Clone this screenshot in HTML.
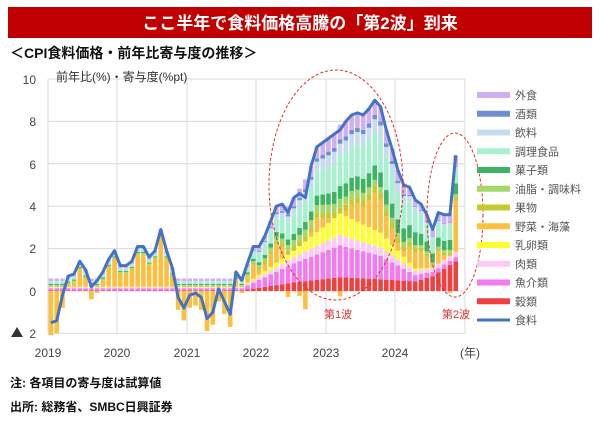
<!DOCTYPE html>
<html><head><meta charset="utf-8"><style>
body{margin:0;background:#fff;width:600px;height:416px;overflow:hidden;font-family:"Liberation Sans","Noto Sans CJK JP",sans-serif;}
</style></head><body>
<svg id="s" width="600" height="416" xmlns="http://www.w3.org/2000/svg" font-family="Liberation Sans, Noto Sans CJK JP, sans-serif">
<rect x="8" y="7" width="584" height="31" fill="#c00000"/>
<text x="300" y="29" font-size="17" font-weight="bold" fill="#fff" text-anchor="middle">ここ半年で食料価格高騰の「第2波」到来</text>
<text x="10" y="58" font-size="14" font-weight="bold" fill="#111">＜CPI食料価格・前年比寄与度の推移＞</text>
<g id="grid"></g>
<g id="bars"></g>
<polyline id="line" fill="none" stroke="#4472c4" stroke-width="3" stroke-linejoin="round"/>
<text x="56" y="81" font-size="12" fill="#333">前年比(%)・寄与度(%pt)</text>
<ellipse cx="336" cy="185" rx="67" ry="115" fill="none" stroke="#e03030" stroke-width="1" stroke-dasharray="3,2"/>
<ellipse cx="455" cy="215" rx="28" ry="82" fill="none" stroke="#e03030" stroke-width="1" stroke-dasharray="3,2"/>
<text x="324" y="318" font-size="11" fill="#e03030">第1波</text>
<text x="442" y="318" font-size="11" fill="#e03030">第2波</text>
<g id="leg" font-size="11" fill="#555"></g>
<g font-size="12" fill="#444" text-anchor="middle">
<text x="48" y="357">2019</text><text x="117" y="357">2020</text><text x="187" y="357">2021</text><text x="256" y="357">2022</text><text x="326" y="357">2023</text><text x="395" y="357">2024</text><text x="470" y="357">(年)</text>
</g>
<g font-size="12" fill="#444" text-anchor="end">
<text x="36" y="84">10</text><text x="36" y="126">8</text><text x="36" y="169">6</text><text x="36" y="211">4</text><text x="36" y="253">2</text><text x="36" y="296">0</text><text x="36" y="338">2</text>
</g>
<path d="M11 337 L17 327 L23 337Z" fill="#333"/>
<text x="10" y="387" font-size="12" font-weight="bold" fill="#111">注: 各項目の寄与度は試算値</text>
<text x="10" y="411" font-size="12" font-weight="bold" fill="#111">出所: 総務省、SMBC日興証券</text>
</svg>
<script>
var NS="http://www.w3.org/2000/svg";
function el(t,a,p){var e=document.createElementNS(NS,t);for(var k in a)e.setAttribute(k,a[k]);if(p)p.appendChild(e);return e;}
var X0=48,XR=465,DX=(395-48)/60,Y0=291,SY=21.2;
function Y(v){return Y0-v*SY;}
var g=document.getElementById('grid');
for(var v=-2;v<=10;v+=2)el('line',{x1:X0,x2:XR,y1:Y(v),y2:Y(v),stroke:'#d9d9d9','stroke-width':1},g);
[48,117,187,256,326,395,465].forEach(function(x){el('line',{x1:x,x2:x,y1:Y(10),y2:Y(-2),stroke:'#d9d9d9','stroke-width':1},g);});
var line=[-1.5,-1.4,-0.2,0.7,0.8,1.4,1.0,0.2,0.5,0.9,1.5,1.9,
1.2,1.2,1.4,2.1,2.1,1.6,1.9,2.9,1.9,1.1,-0.3,-0.8,
-0.2,-0.1,-0.3,-1.3,-1.0,0.1,-0.5,-1.1,0.9,0.5,1.3,2.1,
2.1,2.6,3.3,4.0,4.1,3.7,4.4,4.6,4.4,5.9,6.8,7.0,
7.2,7.4,7.6,8.0,8.3,8.4,8.3,8.6,9.0,8.7,7.6,6.7,
5.7,5.0,4.9,4.3,4.1,3.6,2.9,3.7,3.6,3.6,6.4];
var N=line.length;
var kt=[0,33,42,50,57,63,66,70];
var comps=[
['#f04040',[0.03,0.03,0.4,0.65,0.55,0.45,0.7,1.4]],
['#f07cf0',[0.1,0.1,0.9,1.5,1.1,0.3,0.2,0.2]],
['#fbcaf5',[0.05,0.05,0.3,0.5,0.4,0.2,0.2,0.25]],
['#ffff30',[0.02,0.02,0.3,1.0,0.7,0.1,0.0,0.0]],
['#c8c830',[0.05,0.05,0.2,0.3,0.3,0.2,0.1,0.15]],
['#a4d86c',[0.03,0.03,0.3,0.4,0.3,0.15,0.1,0.15]],
['#3cb464',[0.05,0.05,0.3,0.6,0.7,0.6,0.4,0.5]],
['#a8f0d0',[0.1,0.1,0.9,1.4,1.6,1.0,0.7,0.7]],
['#c8dcf0',[0.05,0.05,0.3,0.6,0.6,0.2,0.1,0.1]],
['#6e8fd0',[0.01,0.01,0.1,0.2,0.2,0.03,0.03,0.03]],
['#d0b0f0',[0.1,0.1,0.4,0.7,0.7,0.3,0.3,0.5]]];
function interp(arr,t){for(var i=0;i<kt.length-1;i++){if(t<=kt[i+1]){var f=(t-kt[i])/(kt[i+1]-kt[i]);return arr[i]+(arr[i+1]-arr[i])*f;}}return arr[arr.length-1];}
var order=[0,1,2,3,-1,4,5,6,7,8,9,10];
var b=document.getElementById('bars');var pts=[];
for(var t=0;t<N;t++){
 var vals=comps.map(function(c){return interp(c[1],t);});
 var s=vals.reduce(function(a,c){return a+c;},0);
 var veg=line[t]-s;
 var cx=X0+DX*(t+0.5),w=4.6,pos=0,neg=0;
 order.forEach(function(i){
  var v,col;if(i<0){v=veg;col='#fbc040';}else{v=vals[i];col=comps[i][0];}
  if(v>=0){el('rect',{x:cx-w/2,y:Y(pos+v),width:w,height:v*SY,fill:col},b);pos+=v;}
  else{el('rect',{x:cx-w/2,y:Y(neg),width:w,height:-v*SY,fill:col},b);neg+=v;}
 });
 pts.push(cx.toFixed(1)+','+Y(line[t]).toFixed(1));
}
document.getElementById('line').setAttribute('points',pts.join(' '));
var leg=document.getElementById('leg');
var L=[['外食','#d0b0f0'],['酒類','#6e8fd0'],['飲料','#c8dcf0'],['調理食品','#a8f0d0'],['菓子類','#3cb464'],['油脂・調味料','#a4d86c'],['果物','#c8c830'],['野菜・海藻','#fbc040'],['乳卵類','#ffff30'],['肉類','#fbcaf5'],['魚介類','#f07cf0'],['穀類','#f04040'],['食料','#4472c4']];
L.forEach(function(l,i){var y=95+i*18.75;
 if(i==12)el('rect',{x:477,y:y-1.5,width:33,height:3,fill:l[1]},leg);
 else el('rect',{x:477,y:y-3,width:33,height:6,fill:l[1]},leg);
 var tx=el('text',{x:515,y:y+4},leg);tx.textContent=l[0];});
</script>
</body></html>
